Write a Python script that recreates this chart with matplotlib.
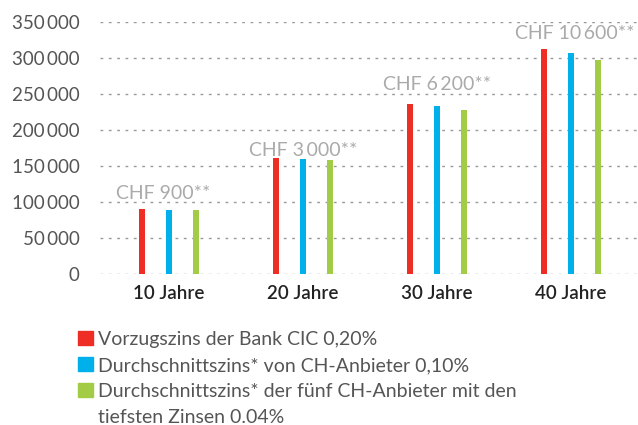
import matplotlib.pyplot as plt
import matplotlib.patches as mpatches
import numpy as np

plt.rcParams['font.family'] = ['Lato', 'DejaVu Sans']

categories = ['10 Jahre', '20 Jahre', '30 Jahre', '40 Jahre']
cic = [90000, 161000, 236000, 312000]
ch_avg = [89000, 160000, 233000, 307000]
ch_low = [89000, 158000, 228000, 297000]
savings = ['CHF 900**', 'CHF 3\u2009000**', 'CHF 6\u2009200**', 'CHF 10\u2009600**']
series_labels = ['Vorzugszins der Bank CIC 0,20%',
                 'Durchschnittszins* von CH-Anbieter 0,10%',
                 'Durchschnittszins* der fünf CH-Anbieter mit den\ntiefsten Zinsen 0.04%']
colors = ['#EE2E24', '#00B0EA', '#A3CC46']

fig = plt.figure(figsize=(6.38, 4.25), dpi=100)
ax = fig.add_axes([100 / 638, 1 - 274 / 425, 538 / 638, 252 / 425])

x = np.arange(len(categories))
for i, vals in enumerate([cic, ch_avg, ch_low]):
    ax.bar(x + (i - 1) * 0.2, vals, width=0.045, color=colors[i], zorder=3)

# savings labels above each group
label_y = [112000, 172000, 263000, 334000]
label_dx = [-0.04, 0.0, 0.0, 0.03]
for xi, txt, ly, dx in zip(x, savings, label_y, label_dx):
    ax.text(xi + dx, ly, txt, ha='center', va='center', fontsize=14,
            color='#AAAAAA', clip_on=False)

ax.set_xlim(-0.515, 3.5)
ax.set_ylim(0, 350000)
yt = np.arange(0, 350001, 50000)
ax.set_yticks(yt)
ax.set_yticklabels([f'{v:,}'.replace(',', '\u2009') for v in yt], fontsize=13.5,
                   color='#555555')
ax.set_xticks(x)
ax.set_xticklabels(categories, fontsize=13.5, color='#222222', fontweight='semibold')
ax.tick_params(length=0)
ax.tick_params(axis='y', pad=14.5)
ax.tick_params(axis='x', pad=8)
ax.grid(axis='y', color='#999999', linestyle=(0, (2, 4)), linewidth=1, zorder=0)
for s in ax.spines.values():
    s.set_visible(False)

# legend drawn by hand, one text per line
square_top = [331, 357, 383]
line_no = 0
for c, lab, sq in zip(colors, series_labels, square_top):
    fig.patches.append(mpatches.Rectangle((78 / 638, 1 - (sq + 14) / 425), 15 / 638, 14 / 425,
                                          color=c, transform=fig.transFigure))
    for part in lab.split('\n'):
        base = 345 + 26 * line_no
        fig.text(98 / 638, 1 - base / 425, part, fontsize=14, color='#555555',
                 va='baseline', ha='left', transform=fig.transFigure)
        line_no += 1

fig.savefig('out.png', dpi=100)
